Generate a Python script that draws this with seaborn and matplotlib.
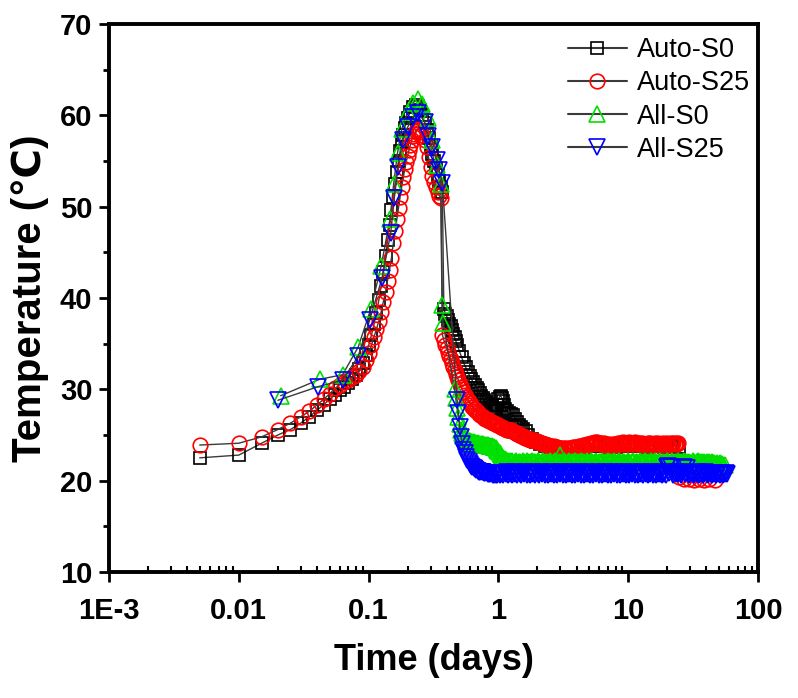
import matplotlib
matplotlib.use("Agg")
import matplotlib.pyplot as plt
import seaborn as sns
from matplotlib.ticker import FixedLocator, FixedFormatter, MultipleLocator, LogLocator, NullFormatter

# ---------------- data ----------------
# shared sampling times (days) of the long cooling tails
tail_days = [
    0.400, 0.409, 0.419, 0.428, 0.438, 0.448, 0.459, 0.469, 0.480, 0.491,
    0.503, 0.514, 0.526, 0.538, 0.551, 0.563, 0.576, 0.590, 0.603, 0.617,
    0.631, 0.646, 0.661, 0.676, 0.692, 0.708, 0.724, 0.741, 0.758, 0.775,
    0.793, 0.811, 0.830, 0.849, 0.869, 0.889, 0.909, 0.930, 0.952, 0.974,
    0.996, 1.02, 1.04, 1.07, 1.09, 1.12, 1.14, 1.17, 1.19, 1.22,
    1.25, 1.28, 1.31, 1.34, 1.37, 1.40, 1.43, 1.47, 1.50, 1.54,
    1.57, 1.61, 1.65, 1.68, 1.72, 1.76, 1.80, 1.85, 1.89, 1.93,
    1.98, 2.02, 2.07, 2.12, 2.17, 2.22, 2.27, 2.32, 2.37, 2.43,
    2.48, 2.54, 2.60, 2.66, 2.72, 2.78, 2.85, 2.91, 2.98, 3.05,
    3.12, 3.19, 3.27, 3.34, 3.42, 3.50, 3.58, 3.66, 3.75, 3.83,
    3.92, 4.01, 4.11, 4.20, 4.30, 4.40, 4.50, 4.60, 4.71, 4.82,
    4.93, 5.04, 5.16, 5.28, 5.40, 5.52, 5.65, 5.78, 5.91, 6.05,
    6.19, 6.33, 6.48, 6.63, 6.78, 6.93, 7.09, 7.26, 7.42, 7.59,
    7.77, 7.95, 8.13, 8.32, 8.51, 8.71, 8.91, 9.11, 9.32, 9.54,
    9.76, 9.98, 10.2, 10.4, 10.7, 10.9, 11.2, 11.5, 11.7, 12.0,
    12.3, 12.6, 12.8, 13.1, 13.4, 13.8, 14.1, 14.4, 14.7, 15.1,
    15.4, 15.8, 16.2, 16.5, 16.9, 17.3, 17.7, 18.1, 18.5, 19.0,
    19.4, 19.9, 20.3, 20.8, 21.3, 21.8, 22.3, 22.8, 23.3, 23.8,
    24.4, 25.0, 25.5, 26.1, 26.7, 27.3, 28.0, 28.6, 29.3, 30.0,
    30.6, 31.3, 32.1, 32.8, 33.6, 34.4, 35.1, 36.0, 36.8, 37.6,
    38.5, 39.4, 40.3, 41.2, 42.2, 43.1, 44.1, 45.2, 46.2, 47.3,
    48.4, 49.5, 50.6, 51.8, 53.0, 54.2, 55.5, 56.8, 58.1]

# Auto-S0 (black squares)
auto_s0_days = [
    0.005, 0.01, 0.015, 0.02, 0.025, 0.03, 0.035, 0.04, 0.045, 0.05,
    0.055, 0.06, 0.065, 0.07, 0.075, 0.08, 0.085, 0.09, 0.095, 0.10,
    0.105, 0.11, 0.115, 0.12, 0.125, 0.13, 0.135, 0.14, 0.145, 0.15,
    0.155, 0.16, 0.165, 0.17, 0.175, 0.18, 0.185, 0.19, 0.195, 0.20,
    0.21, 0.22, 0.23, 0.24, 0.25, 0.26, 0.27, 0.28, 0.29, 0.30,
    0.31, 0.32, 0.33, 0.34, 0.35, 0.36, 0.37, 0.38, 0.39, 0.40,
    0.41, 0.42, 0.43, 0.44, 0.45, 0.46, 0.47, 0.48, 0.50, 0.52,
    0.54, 0.56, 0.58, 0.60, 0.62, 0.64, 0.66, 0.68, 0.70, 0.72,
    0.74, 0.76, 0.78, 0.80, 0.82, 0.84, 0.86, 0.88, 0.90, 0.92,
    0.94, 0.96, 0.98, 1.00, 1.02, 1.04, 1.06, 1.08, 1.10, 1.13,
    1.16, 1.20, 1.25, 1.30, 1.35, 1.40, 1.45, 1.50, 1.55, 1.62,
    1.70, 1.80, 1.95, 2.1, 2.3, 2.5, 2.8, 3.1, 3.5, 4.0,
    4.6, 5.3, 6.1, 7.0, 8.1, 9.3, 10.7, 12.3, 14.2, 16.3,
    18.8, 21.6, 24.5]
auto_s0_temp = [
    22.5, 22.8, 24.1, 25.0, 25.6, 26.3, 27.0, 27.7, 28.3, 28.9,
    29.4, 29.9, 30.3, 30.7, 31.1, 31.6, 32.2, 32.9, 33.8, 34.8,
    35.9, 37.1, 38.4, 39.8, 41.3, 42.9, 44.6, 46.3, 48.0, 49.6,
    51.1, 52.5, 53.8, 55.0, 56.1, 57.1, 57.9, 58.6, 59.2, 59.7,
    60.4, 60.9, 61.1, 61.0, 60.6, 60.0, 59.2, 58.4, 57.5, 56.6,
    55.8, 55.0, 54.2, 53.5, 52.8, 52.2, 51.6, 38.8, 38.3, 38.0,
    37.6, 37.2, 36.9, 36.5, 36.1, 35.7, 35.3, 34.9, 34.2, 33.5,
    32.9, 32.4, 31.9, 31.5, 31.1, 30.8, 30.5, 30.2, 29.9, 29.6,
    29.3, 29.1, 28.8, 28.6, 28.4, 28.2, 28.0, 27.8, 27.7, 27.6,
    27.6, 27.7, 28.3, 28.9, 29.2, 29.3, 29.1, 28.7, 28.3, 27.9,
    27.6, 27.4, 27.3, 27.2, 26.8, 26.4, 26.1, 25.9, 25.7, 25.4,
    25.0, 24.6, 24.2, 24.0, 23.8, 23.7, 23.6, 23.5, 23.5, 23.5,
    23.6, 23.8, 23.8, 23.7, 23.7, 23.8, 23.8, 23.8, 23.7, 23.8,
    23.7, 23.8, 23.7]

# Auto-S25 (red circles): heating part, cooling tail (on tail_days from 0.400), end
auto_s25_rise_days = [
    0.005, 0.01, 0.015, 0.02, 0.025, 0.03, 0.035, 0.04, 0.045, 0.05,
    0.055, 0.06, 0.065, 0.07, 0.075, 0.08, 0.085, 0.09, 0.095, 0.10,
    0.105, 0.11, 0.115, 0.12, 0.125, 0.13, 0.135, 0.14, 0.145, 0.15,
    0.155, 0.16, 0.165, 0.17, 0.175, 0.18, 0.185, 0.19, 0.195, 0.20,
    0.205, 0.21, 0.215, 0.22, 0.225, 0.23, 0.235, 0.24, 0.245, 0.25,
    0.26, 0.27, 0.28, 0.29, 0.30, 0.31, 0.32, 0.33, 0.34, 0.35,
    0.36, 0.37, 0.38, 0.39]
auto_s25_rise_temp = [
    23.9, 24.1, 24.8, 25.6, 26.3, 27.0, 27.6, 28.3, 28.9, 29.5,
    30.1, 30.5, 30.8, 31.0, 31.3, 31.6, 32.0, 32.5, 33.2, 34.0,
    34.8, 35.7, 36.6, 37.5, 38.5, 39.6, 40.7, 41.9, 43.1, 44.4,
    46.0, 47.3, 48.6, 49.9, 51.1, 52.2, 53.2, 54.1, 54.9, 55.6,
    56.2, 56.8, 57.3, 57.7, 58.0, 58.3, 58.4, 58.5, 58.4, 58.2,
    57.8, 57.3, 56.5, 55.4, 54.3, 53.4, 52.7, 52.1, 51.6, 51.2,
    51.0, 36.0, 35.4, 34.9]
auto_s25_tail_temp = [
    34.5, 34.1, 33.7, 33.3, 32.9, 32.5, 32.1, 31.7, 31.4, 31.0,
    30.6, 30.3, 30.0, 29.7, 29.4, 29.2, 28.9, 28.7, 28.5, 28.3,
    28.1, 27.9, 27.8, 27.6, 27.5, 27.3, 27.2, 27.1, 27.0, 26.9,
    26.8, 26.7, 26.6, 26.5, 26.5, 26.4, 26.3, 26.3, 26.2, 26.1,
    26.1, 26.0, 25.9, 25.9, 25.8, 25.7, 25.7, 25.6, 25.6, 25.5,
    25.5, 25.4, 25.3, 25.3, 25.2, 25.1, 25.1, 25.0, 24.9, 24.9,
    24.8, 24.7, 24.7, 24.6, 24.6, 24.5, 24.5, 24.4, 24.4, 24.3,
    24.3, 24.2, 24.2, 24.1, 24.1, 24.0, 24.0, 23.9, 23.9, 23.9,
    23.8, 23.8, 23.7, 23.8, 23.7, 23.6, 23.7, 23.6, 23.6, 23.5,
    23.6, 23.5, 23.6, 23.5, 23.6, 23.5, 23.6, 23.6, 23.7, 23.6,
    23.7, 23.6, 23.7, 23.8, 23.7, 23.8, 23.9, 23.8, 23.9, 24.0,
    23.9, 24.0, 24.1, 24.0, 24.1, 24.2, 24.1, 24.2, 24.1, 24.0,
    24.1, 24.0, 24.1, 23.9, 24.0, 23.9, 24.0, 23.8, 23.9, 24.0,
    23.9, 24.0, 23.9, 24.1, 24.0, 24.1, 24.0, 24.2, 24.1, 24.0,
    24.1, 24.0, 24.2, 24.1, 24.0, 24.1, 24.2, 24.0, 24.1, 24.0,
    24.1, 24.0, 24.1, 24.0, 23.9, 24.0, 24.1, 24.0, 24.1, 24.0,
    23.9, 24.0, 24.1, 24.0, 24.1, 24.0, 23.9, 24.0, 24.1, 24.0,
    24.0, 24.1, 23.9, 24.0, 24.1, 24.0, 24.1, 24.0, 24.1, 24.0,
    24.1]
auto_s25_end_days = [24.6, 24.8, 26.7, 29.3, 32.1, 35.2, 38.5, 42.2, 46.3]
auto_s25_end_temp = [22.0, 20.4, 20.2, 20.2, 20.1, 20.2, 20.1, 20.2, 20.1]

# All-S0 (green up-triangles): heating part, tail on tail_days from 0.459
all_s0_rise_days = [
    0.021, 0.042, 0.063, 0.083, 0.104, 0.125, 0.146, 0.156, 0.167, 0.18,
    0.20, 0.22, 0.24, 0.26, 0.285, 0.31, 0.335, 0.36, 0.37, 0.375]
all_s0_rise_temp = [
    29.3, 31.1, 31.6, 34.6, 38.8, 43.5, 48.6, 52.5, 55.9, 58.5,
    60.4, 61.4, 61.8, 61.2, 59.7, 57.3, 54.6, 52.5, 39.2, 37.3]
all_s0_tail_start = 6
all_s0_tail_temp = [
    30.0, 29.0, 28.0, 27.0,
    26.2, 25.6, 25.2, 24.9, 24.7, 24.5, 24.4, 24.3, 24.3, 24.2,
    24.2, 24.2, 24.1, 24.1, 24.1, 24.0, 24.0, 24.0, 24.0, 23.9,
    23.9, 23.9, 23.9, 23.8, 23.8, 23.8, 23.7, 23.7, 23.6, 23.4,
    23.2, 23.0, 22.8, 22.6, 22.5, 22.4, 22.3, 22.2, 22.1, 22.1,
    22.0, 22.1, 21.9, 22.0, 22.1, 21.9, 22.0, 22.0, 21.9, 22.1,
    22.0, 21.9, 22.1, 22.0, 21.9, 22.0, 22.1, 21.9, 22.0, 22.0,
    21.9, 22.1, 22.0, 21.9, 22.0, 22.1, 21.9, 22.0, 22.0, 21.9,
    22.1, 22.0, 21.9, 22.0, 22.1, 22.0, 21.9, 22.0, 22.8, 22.0,
    21.9, 22.1, 22.0, 21.9, 22.0, 22.1, 21.9, 22.0, 22.0, 21.9,
    22.1, 22.0, 21.9, 22.0, 22.1, 21.9, 22.0, 22.0, 21.9, 22.1,
    22.0, 21.9, 22.1, 22.0, 21.9, 22.0, 22.1, 21.9, 22.0, 22.0,
    21.9, 22.1, 22.0, 21.9, 22.0, 22.1, 21.9, 22.0, 22.0, 21.9,
    22.1, 22.0, 21.9, 22.0, 22.1, 22.0, 21.9, 22.0, 22.0, 21.9,
    21.9, 22.1, 22.0, 21.9, 22.0, 22.1, 21.9, 22.0, 22.0, 21.9,
    22.1, 22.0, 21.9, 22.0, 22.1, 21.9, 22.0, 22.0, 21.9, 22.1,
    22.0, 21.9, 22.1, 22.0, 21.9, 22.0, 22.1, 21.9, 22.0, 22.0,
    21.9, 22.1, 22.0, 21.9, 22.0, 22.1, 21.9, 22.0, 22.0, 21.9,
    22.1, 22.0, 21.9, 22.0, 22.1, 22.0, 21.9, 22.0, 22.0, 21.9,
    21.9, 22.1, 22.0, 21.9, 22.0, 22.1, 21.9, 22.0, 22.0, 21.9,
    22.0, 21.9, 22.0, 21.9, 22.0, 21.9, 22.0, 21.9, 21.9, 21.8,
    21.9, 21.8, 21.9, 21.8, 21.8, 21.7, 21.7]

# All-S25 (blue down-triangles): heating part, tail on tail_days from 0.480
all_s25_rise_days = [
    0.02, 0.041, 0.063, 0.083, 0.102, 0.127, 0.148, 0.158, 0.168, 0.184,
    0.20, 0.22, 0.24, 0.27, 0.286, 0.31, 0.335, 0.35, 0.37]
all_s25_rise_temp = [
    28.8, 30.3, 31.0, 33.6, 37.6, 42.2, 47.1, 51.0, 54.3, 57.3,
    58.7, 59.8, 60.3, 59.3, 57.7, 56.5, 55.1, 54.0, 52.6]
all_s25_tail_start = 8
all_s25_tail_temp = [
    28.8, 27.4,
    25.9, 24.8, 24.0, 23.4, 23.0, 22.6, 22.3, 22.0, 21.8, 21.6,
    21.5, 21.4, 21.3, 21.2, 21.1, 21.0, 21.0, 20.9, 20.9, 20.8,
    20.8, 20.8, 20.7, 20.7, 20.7, 20.7, 20.6, 20.6, 20.6, 20.6,
    20.7, 20.6, 20.8, 20.7, 20.6, 20.8, 20.7, 20.9, 20.6, 20.7,
    20.8, 20.6, 20.7, 20.9, 20.7, 20.6, 20.8, 20.7, 20.6, 20.8,
    20.7, 20.9, 20.6, 20.7, 20.8, 20.6, 20.7, 20.9, 20.7, 20.6,
    20.8, 20.7, 20.6, 20.8, 20.7, 20.9, 20.6, 20.7, 20.8, 20.6,
    20.7, 20.9, 20.7, 20.6, 20.8, 20.7, 20.6, 20.8, 20.7, 20.9,
    20.6, 20.7, 20.8, 20.6, 20.7, 20.9, 20.7, 20.6, 20.8, 20.7,
    20.6, 20.8, 20.7, 20.9, 20.6, 20.7, 20.8, 20.6, 20.7, 20.9,
    20.7, 20.6, 20.8, 20.7, 20.6, 20.8, 20.7, 20.9, 20.6, 20.7,
    20.8, 20.6, 20.7, 20.9, 20.7, 20.6, 20.8, 20.7, 20.6, 20.8,
    20.7, 20.9, 20.6, 20.7, 20.8, 20.6, 20.7, 20.9, 20.7, 20.6,
    20.8, 20.7, 20.6, 20.8, 20.7, 20.9, 20.6, 20.7, 20.8, 20.6,
    20.7, 20.9, 20.7, 20.6, 20.8, 20.7, 20.6, 20.8, 20.7, 20.9,
    20.6, 20.7, 20.8, 20.6, 20.7, 20.9, 20.7, 20.6, 20.8, 20.7,
    20.6, 21.5, 21.6, 20.8, 21.5, 20.9, 20.6, 20.8, 20.7, 20.9,
    20.7, 20.8, 20.6, 20.9, 21.5, 20.7, 20.8, 21.4, 20.6, 20.7,
    20.8, 20.7, 20.6, 20.8, 20.7, 20.9, 20.6, 20.7, 20.8, 20.6,
    20.7, 20.9, 20.7, 20.6, 20.8, 20.7, 20.6, 20.8, 20.7, 20.6,
    20.8, 20.7, 20.6, 20.8, 20.7, 20.6, 20.7, 20.8, 20.7]

series_names = ["Auto-S0", "Auto-S25", "All-S0", "All-S25"]
x_tick_values = [1e-3, 1e-2, 1e-1, 1, 10, 100]
x_tick_labels = ["1E-3", "0.01", "0.1", "1", "10", "100"]
y_tick_values = [10, 20, 30, 40, 50, 60, 70]

# ---------------- assemble series ----------------
auto_s25_days = (auto_s25_rise_days + tail_days[:len(auto_s25_tail_temp)]
                 + auto_s25_end_days)
auto_s25_temp = auto_s25_rise_temp + auto_s25_tail_temp + auto_s25_end_temp
all_s0_days = all_s0_rise_days + tail_days[all_s0_tail_start:all_s0_tail_start + len(all_s0_tail_temp)]
all_s0_temp = all_s0_rise_temp + all_s0_tail_temp
all_s25_days = all_s25_rise_days + tail_days[all_s25_tail_start:all_s25_tail_start + len(all_s25_tail_temp)]
all_s25_temp = all_s25_rise_temp + all_s25_tail_temp

n = min(len(auto_s0_days), len(auto_s0_temp))
auto_s0_days, auto_s0_temp = auto_s0_days[:n], auto_s0_temp[:n]
n = min(len(all_s0_days), len(all_s0_temp))
all_s0_days, all_s0_temp = all_s0_days[:n], all_s0_temp[:n]
n = min(len(all_s25_days), len(all_s25_temp))
all_s25_days, all_s25_temp = all_s25_days[:n], all_s25_temp[:n]
n = min(len(auto_s25_days), len(auto_s25_temp))
auto_s25_days, auto_s25_temp = auto_s25_days[:n], auto_s25_temp[:n]

# ---------------- style ----------------
sns.set_theme(style="ticks")
plt.rcParams["font.family"] = ["Liberation Sans", "DejaVu Sans"]
for key in ["text.color", "axes.labelcolor", "xtick.color", "ytick.color", "axes.edgecolor"]:
    plt.rcParams[key] = "black"

fig = plt.figure(figsize=(7.98, 6.98), dpi=100)
ax = fig.add_axes([109 / 798, 1 - 572 / 698, (758 - 109) / 798, (572 - 24) / 698])

LINE = "#3a3a3a"
specs = [
    (auto_s0_days, auto_s0_temp, "s", 8.5, "black"),
    (auto_s25_days, auto_s25_temp, "o", 10.5, "red"),
    (all_s0_days, all_s0_temp, "^", 12, "#00e000"),
    (all_s25_days, all_s25_temp, "v", 12, "blue"),
]
for name, (days, temps, mk, ms, col) in zip(series_names, specs):
    sns.lineplot(x=days, y=temps, ax=ax, sort=False, estimator=None,
                 color=LINE, linewidth=1.0, marker=mk, markersize=ms,
                 markeredgecolor=col, markerfacecolor="none",
                 markeredgewidth=1.2, label=name)

ax.set_xscale("log")
ax.set_xlim(1e-3, 100)
ax.set_ylim(10, 70)
ax.xaxis.set_major_locator(FixedLocator(x_tick_values))
ax.xaxis.set_major_formatter(FixedFormatter(x_tick_labels))
ax.xaxis.set_minor_locator(LogLocator(base=10, subs=[2, 3, 4, 5, 6, 7, 8, 9]))
ax.xaxis.set_minor_formatter(NullFormatter())
ax.yaxis.set_major_locator(FixedLocator(y_tick_values))
ax.yaxis.set_minor_locator(MultipleLocator(5))

for s in ax.spines.values():
    s.set_linewidth(2.8)
    s.set_color("black")
    s.set_visible(True)

ax.tick_params(axis="both", which="major", direction="out", length=7, width=2,
               color="black", labelcolor="black", labelsize=21)
ax.tick_params(axis="x", which="major", pad=11)
ax.tick_params(axis="y", which="major", pad=5)
ax.tick_params(axis="x", which="minor", direction="in", length=4, width=1.5, color="black")
ax.tick_params(axis="y", which="minor", direction="out", length=4, width=2, color="black")
for lab in ax.get_xticklabels() + ax.get_yticklabels():
    lab.set_fontweight("bold")

ax.set_xlabel("Time (days)", fontsize=26, fontweight="bold", labelpad=13, color="black")
ax.set_ylabel("Temperature (℃)", fontsize=29, fontweight="bold", labelpad=8, color="black")
ax.grid(False)

leg = ax.legend(loc="upper right", bbox_to_anchor=(1.004, 0.996), frameon=False,
                fontsize=19.5, handlelength=2.2, handletextpad=0.35,
                labelspacing=0.27, borderaxespad=0.0)
for h in leg.get_lines():
    h.set_linewidth(1.5)
for txt in leg.get_texts():
    txt.set_color("black")

fig.savefig("out.png", dpi=100)
